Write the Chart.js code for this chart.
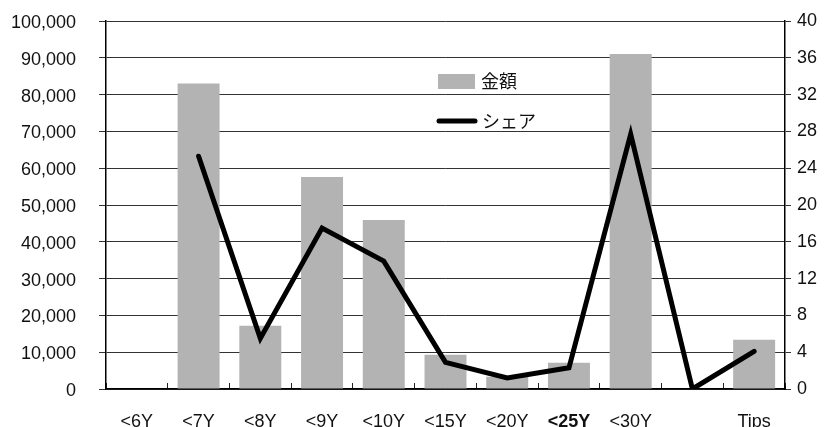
<!DOCTYPE html>
<html>
<head>
<meta charset="utf-8">
<script src="https://cdn.jsdelivr.net/npm/chart.js@4/dist/chart.umd.min.js"></script>
<style>
  html, body { margin: 0; padding: 0; background: #fff; }
  #wrap { width: 824px; height: 427px; }
</style>
</head>
<body>
<div id="wrap"><canvas id="ageChart" width="824" height="427"></canvas></div>
<script>
// 年数区分ごとの金額とシェア
const ageLabels = ['<6Y', '<7Y', '<8Y', '<9Y', '<10Y', '<15Y', '<20Y', '<25Y', '<30Y', '', 'Tips'];
const amountValues = [0, 83000, 17200, 57600, 45900, 9300, 3300, 7100, 91000, 0, 13400];
const shareValues = [null, 25.3, 5.5, 17.5, 13.9, 2.9, 1.2, 2.3, 27.7, 0, 4.1];
const amountTicks = [0, 10000, 20000, 30000, 40000, 50000, 60000, 70000, 80000, 90000, 100000];
const shareTicks = [0, 4, 8, 12, 16, 20, 24, 28, 32, 36, 40];

const FONT = '"Liberation Sans", Arial, sans-serif';
const JP_FONT = '"Noto Sans CJK JP", sans-serif';

// グラフ内に置く凡例
const innerLegend = {
    id: 'innerLegend',
    afterDatasetsDraw(chart) {
        const ctx = chart.ctx;
        const area = chart.chartArea;
        const bar = chart.data.datasets[1];
        const line = chart.data.datasets[0];
        const x = area.left + 331;
        ctx.save();
        ctx.fillStyle = bar.backgroundColor;
        ctx.fillRect(x + 1, area.top + 53, 37, 15);
        ctx.strokeStyle = line.borderColor;
        ctx.lineWidth = 5;
        ctx.lineCap = 'round';
        ctx.beginPath();
        ctx.moveTo(x + 2, area.top + 100);
        ctx.lineTo(x + 38, area.top + 100);
        ctx.stroke();
        ctx.fillStyle = '#111';
        ctx.font = '18px ' + JP_FONT;
        ctx.textBaseline = 'middle';
        ctx.fillText(bar.label, x + 44, area.top + 60);
        ctx.fillText(line.label, x + 45, area.top + 100);
        ctx.restore();
    }
};

// 縦軸の幅を固定し、ラベルのはみ出し分の余白は取らない
function fixAxis(width) {
    return (scale) => {
        scale.width = width;
        scale.paddingTop = 0;
        scale.paddingBottom = 0;
    };
}

const ctx = document.getElementById('ageChart').getContext('2d');
new Chart(ctx, {
    type: 'bar',
    data: {
        labels: ageLabels,
        datasets: [
            {
                type: 'line',
                label: 'シェア',
                data: shareValues,
                yAxisID: 'y1',
                borderColor: '#000',
                borderWidth: 5,
                borderCapStyle: 'round',
                borderJoinStyle: 'miter',
                pointRadius: 0,
                tension: 0,
                fill: false,
                order: 0
            },
            {
                label: '金額',
                data: amountValues,
                yAxisID: 'y',
                backgroundColor: '#b3b3b3',
                borderWidth: 0,
                barPercentage: 0.68,
                categoryPercentage: 1,
                order: 1
            }
        ]
    },
    options: {
        responsive: false,
        animation: false,
        events: [],
        layout: { padding: { top: 21, left: 0, right: 0, bottom: 0 } },
        plugins: {
            legend: { display: false },
            tooltip: { enabled: false }
        },
        scales: {
            x: {
                offset: true,
                grid: {
                    offset: true,
                    drawOnChartArea: false,
                    drawTicks: true,
                    tickLength: -6,
                    color: '#222',
                    lineWidth: 1
                },
                border: { color: '#000', width: 1.5 },
                ticks: {
                    color: '#111',
                    padding: 28,
                    maxRotation: 0,
                    autoSkip: false,
                    font: (c) => ({
                        family: FONT,
                        size: 18,
                        weight: ageLabels[c.index] === '<25Y' ? 'bold' : 'normal'
                    })
                },
                afterFit(scale) {
                    scale.height = 38;
                    scale.paddingLeft = 0;
                    scale.paddingRight = 0;
                }
            },
            y: {
                position: 'left',
                min: 0,
                max: 100000,
                afterBuildTicks(scale) {
                    scale.ticks = amountTicks.map(v => ({ value: v }));
                },
                grid: {
                    color: '#333',
                    lineWidth: 1,
                    tickLength: 7
                },
                border: { color: '#000', width: 1.5 },
                ticks: {
                    color: '#111',
                    padding: 23,
                    labelOffset: 2,
                    font: { family: FONT, size: 18 },
                    callback: (v) => v.toLocaleString('en-US')
                },
                afterFit: fixAxis(106)
            },
            y1: {
                position: 'right',
                min: 0,
                max: 40,
                afterBuildTicks(scale) {
                    scale.ticks = shareTicks.map(v => ({ value: v }));
                },
                grid: {
                    drawOnChartArea: false,
                    color: '#333',
                    tickLength: 6
                },
                border: { color: '#000', width: 1.5 },
                ticks: {
                    color: '#111',
                    padding: 6,
                    font: { family: FONT, size: 18 }
                },
                afterFit: fixAxis(39)
            }
        }
    },
    plugins: [innerLegend]
});
</script>
</body>
</html>
